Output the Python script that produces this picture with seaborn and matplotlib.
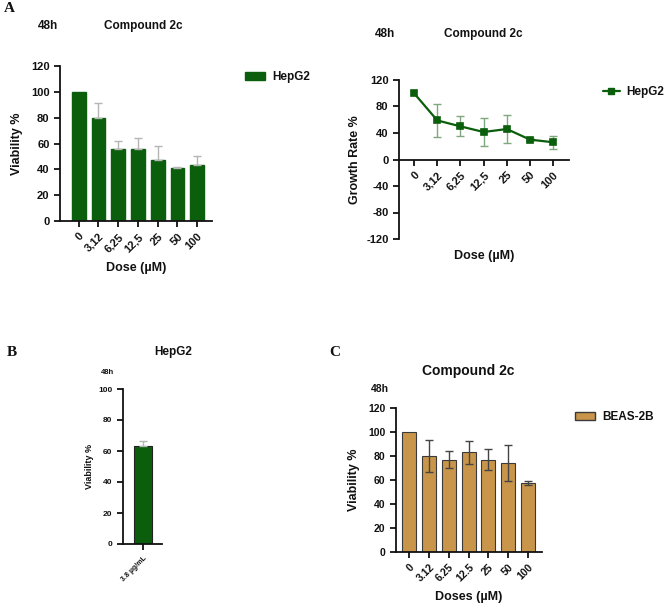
"""
Compound 2c viability / growth panels (HepG2, BEAS-2B)
"""
import numpy as np
import pandas as pd
import seaborn as sns
import matplotlib.pyplot as plt
from matplotlib.patches import Patch
from matplotlib.lines import Line2D

# %% Data
doses_a = ['0', '3,12', '6,25', '12,5', '25', '50', '100']
viab_hepg2 = [100, 80, 55.5, 56, 47, 41, 43.5]
viab_hepg2_err = [0, 11, 6.5, 8, 11, 1, 7]

growth_hepg2 = [100, 59, 50, 41.5, 46, 30, 26]
growth_hepg2_err = [0, 24.5, 15, 21.5, 20.5, 2, 9.5]

dose_b = ['3.8 µg/mL']
viab_b = [63]
viab_b_err = [3.5]

doses_c = ['0', '3.12', '6.25', '12.5', '25', '50', '100']
viab_beas = [100, 80, 77, 83, 77, 74, 57.5]
viab_beas_err = [0, 13.5, 7, 9.5, 9, 15, 2]

GREEN = '#0b5e0b'
TAN = '#c8954a'
W, H = 667, 605

sns.set_style('ticks')
plt.rcParams['font.family'] = ['Liberation Sans', 'DejaVu Sans']
plt.rcParams['font.weight'] = 'bold'
plt.rcParams['axes.labelweight'] = 'bold'
plt.rcParams['axes.linewidth'] = 1.3
plt.rcParams['xtick.major.width'] = 1.3
plt.rcParams['ytick.major.width'] = 1.3
plt.rcParams['axes.unicode_minus'] = False
for k in ['text.color', 'axes.labelcolor', 'xtick.color', 'ytick.color',
          'axes.edgecolor']:
    plt.rcParams[k] = '#111111'

fig = plt.figure(figsize=(W / 100, H / 100), dpi=100)


def px_axes(x0, y0, x1, y1):
    # pixel box (left, top, right, bottom) -> axes
    return fig.add_axes([x0 / W, 1 - y1 / H, (x1 - x0) / W, (y1 - y0) / H])


def ftext(x, y, s, **kw):
    fig.text(x / W, 1 - y / H, s, **kw)


def style_ax(ax, fs=8, rot=45):
    sns.despine(ax=ax)
    ax.tick_params(labelsize=fs, length=4)
    plt.setp(ax.get_xticklabels(), rotation=rot, ha='right',
             rotation_mode='anchor', fontweight='bold')
    plt.setp(ax.get_yticklabels(), fontweight='bold')


def px_legend(ax, handle, x, y, hl):
    ax.legend(handles=[handle], loc='center left',
              bbox_to_anchor=(x / W, 1 - y / H),
              bbox_transform=fig.transFigure, frameon=False,
              borderpad=0, borderaxespad=0, handletextpad=0.6,
              prop={'size': 8.5, 'weight': 'bold'}, handlelength=hl)


def add_err(ax, vals, errs, upper_only=False, **kw):
    # skip points without spread (no cap drawn there in the original)
    idx = np.array([i for i, e in enumerate(errs) if e > 0])
    v = np.array(vals, dtype=float)[idx]
    e = np.array(errs, dtype=float)[idx]
    yerr = [np.zeros_like(e), e] if upper_only else e
    ax.errorbar(idx, v, yerr=yerr, fmt='none', elinewidth=1, capsize=3, **kw)


# %% Panel A left: viability bars
ax1 = px_axes(60, 66, 212, 221)
df1 = pd.DataFrame({'dose': doses_a, 'viab': viab_hepg2})
sns.barplot(df1, x='dose', y='viab', color=GREEN, width=0.7, saturation=1,
            edgecolor=GREEN, errorbar=None, ax=ax1)
add_err(ax1, viab_hepg2, viab_hepg2_err, upper_only=True, ecolor='#b5b5b5')
ax1.set_ylim(0, 120)
ax1.set_yticks(np.arange(0, 121, 20))
ax1.set_xlim(-0.95, 6.75)
ax1.set_xlabel('Dose (µM)', fontsize=9, labelpad=6)
ax1.set_ylabel('Viability %', fontsize=9, labelpad=6)
style_ax(ax1)
px_legend(ax1, Patch(facecolor=GREEN, edgecolor=GREEN, label='HepG2'),
          245, 77, 1.7)

# %% Panel A right: growth rate line
ax2 = px_axes(399, 80, 569, 239)
df2 = pd.DataFrame({'dose': doses_a, 'growth': growth_hepg2})
sns.pointplot(df2, x='dose', y='growth', color=GREEN, markers='s',
              errorbar=None, linewidth=1.6, markersize=5, ax=ax2)
add_err(ax2, growth_hepg2, growth_hepg2_err, ecolor='#7fa87f', zorder=1)
ax2.set_ylim(-120, 120)
ax2.set_yticks(np.arange(-120, 121, 40))
ax2.set_xlim(-0.65, 6.68)
ax2.spines['bottom'].set_position(('data', 0))
ax2.set_xlabel('Dose (µM)', fontsize=9, labelpad=0)
ax2.xaxis.set_label_coords(0.5, -0.07)
ax2.set_ylabel('Growth Rate %', fontsize=9, labelpad=4)
style_ax(ax2)
px_legend(ax2, Line2D([], [], color=GREEN, marker='s', markersize=5,
                      lw=1.6, label='HepG2'), 603, 92, 1.4)

# %% Panel B: single bar
ax3 = px_axes(123, 389, 162, 544)
df3 = pd.DataFrame({'dose': dose_b, 'viab': viab_b})
sns.barplot(df3, x='dose', y='viab', color=GREEN, width=1.0, saturation=1,
            edgecolor='#222222', linewidth=0.8, errorbar=None, ax=ax3)
add_err(ax3, viab_b, viab_b_err, upper_only=True, ecolor='#b5b5b5')
ax3.set_ylim(0, 100)
ax3.set_yticks(np.arange(0, 101, 20))
ax3.set_xlim(-1.11, 1.06)
ax3.set_xlabel('')
ax3.set_ylabel('Viability %', fontsize=6.5, labelpad=3)
style_ax(ax3, fs=6)
plt.setp(ax3.get_xticklabels(), fontsize=5)

# %% Panel C: BEAS-2B bars
ax4 = px_axes(396, 408, 542, 552)
df4 = pd.DataFrame({'dose': doses_c, 'viab': viab_beas})
sns.barplot(df4, x='dose', y='viab', color=TAN, width=0.7, saturation=1,
            edgecolor='#3a3a3a', linewidth=0.8, errorbar=None, ax=ax4)
add_err(ax4, viab_beas, viab_beas_err, ecolor='#444444')
ax4.set_ylim(0, 120)
ax4.set_yticks(np.arange(0, 121, 20))
ax4.set_xlim(-0.66, 6.7)
ax4.set_xlabel('Doses (µM)', fontsize=9, labelpad=5)
ax4.set_ylabel('Viability %', fontsize=9, labelpad=6)
style_ax(ax4, fs=7.5)
px_legend(ax4, Patch(facecolor=TAN, edgecolor='#3a3a3a', label='BEAS-2B'),
          575, 417, 1.7)

# %% Titles and panel letters
ftext(48, 26, '48h', fontsize=8.5, ha='center', va='center')
ftext(143, 26, 'Compound 2c', fontsize=8.5, ha='center', va='center')
ftext(385, 34, '48h', fontsize=8.5, ha='center', va='center')
ftext(483, 34, 'Compound 2c', fontsize=8.5, ha='center', va='center')
ftext(173, 352, 'HepG2', fontsize=8.5, ha='center', va='center')
ftext(108, 372, '48h', fontsize=5.5, ha='center', va='center')
ftext(468, 371, 'Compound 2c', fontsize=10, ha='center', va='center')
ftext(380, 389, '48h', fontsize=7.5, ha='center', va='center')

for x, y, s in [(9, 9, 'A'), (12, 353, 'B'), (335, 353, 'C')]:
    ftext(x, y, s, fontsize=11, fontweight='bold', ha='center', va='center',
          family=['Liberation Serif', 'DejaVu Serif'])

fig.savefig('out.png', dpi=100)
